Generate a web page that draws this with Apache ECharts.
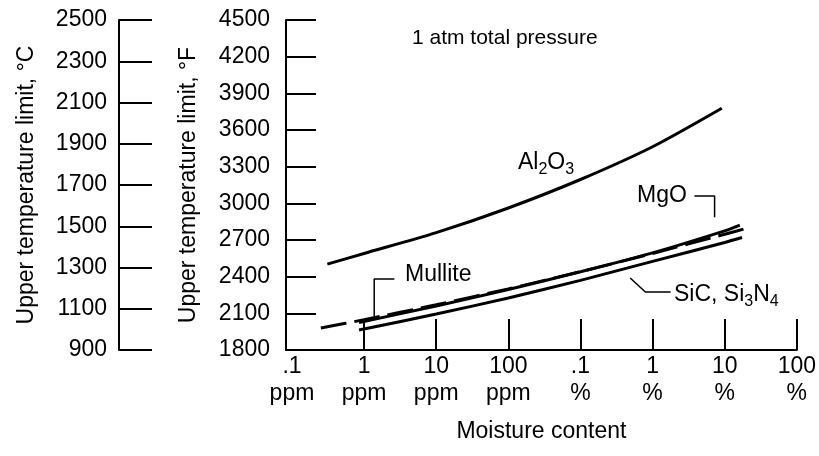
<!DOCTYPE html>
<html>
<head>
<meta charset="utf-8">
<script src="https://cdn.jsdelivr.net/npm/echarts@6/dist/echarts.min.js"></script>
<style>
html, body { margin: 0; padding: 0; background: #fff; }
#chart { width: 819px; height: 456px; }
</style>
</head>
<body>
<div id="chart"></div>
<script>
// moisture content is plotted as log10 of the fraction: -7 = .1 ppm ... 0 = 100 %
const moistureTicks = [-7, -6, -5, -4, -3, -2, -1, 0]
const moistureLabels = ['.1\nppm', '1\nppm', '10\nppm', '100\nppm', '.1\n%', '1\n%', '10\n%', '100\n%']
const celsiusTicks = [900, 1100, 1300, 1500, 1700, 1900, 2100, 2300, 2500]

// [log10 moisture, upper temperature limit °F]
const al2o3 = [[-6.51, 2503], [-6, 2590], [-5, 2760], [-4, 2962], [-3, 3195], [-2, 3463], [-1.04, 3778]]
const mullite = [[-6.6, 1980], [-6, 2048], [-5, 2170], [-4, 2300], [-3, 2441], [-2, 2590], [-1, 2747], [-0.69, 2797]]
const mgo = [[-6.07, 2025], [-5, 2160], [-4, 2295], [-3, 2440], [-2, 2595], [-1, 2775], [-0.79, 2822]]
const sic = [[-6.07, 1963], [-5, 2095], [-4, 2225], [-3, 2370], [-2, 2525], [-1, 2680], [-0.76, 2720]]

// leader lines for the curve labels (same units as the data)
const mulliteLeader = [[-5.58, 2380], [-5.86, 2380], [-5.86, 2068]]
const mgoLeader = [[-1.42, 3059], [-1.14, 3059], [-1.14, 2887]]
const sicLeader = [[-2.31, 2389], [-2.1, 2274], [-1.75, 2274]]

const FONT = '"Liberation Sans", Arial, Helvetica, sans-serif'
const black = '#000'

function curve(name, data, dashed) {
  return {
    name: name,
    type: 'line',
    data: data,
    symbol: 'none',
    smooth: 0.25,
    silent: true,
    lineStyle: { color: black, width: 3, type: dashed ? [26, 8] : 'solid' },
  }
}
function leader(data) {
  return {
    type: 'line',
    data: data,
    symbol: 'none',
    silent: true,
    lineStyle: { color: black, width: 1.5 },
  }
}
function label(text, x, y, size) {
  return {
    type: 'text',
    x: x,
    y: y,
    style: { text: text, fill: black, font: (size || 23) + 'px ' + FONT, verticalAlign: 'middle' },
  }
}
function subLabel(text, x, y) {
  return {
    type: 'text',
    x: x,
    y: y,
    style: {
      text: text,
      verticalAlign: 'middle',
      rich: {
        a: { fontSize: 23, fontFamily: FONT, color: black, lineHeight: 24, verticalAlign: 'top' },
        s: { fontSize: 16, fontFamily: FONT, color: black, lineHeight: 16, verticalAlign: 'top', padding: [11, 0, 0, 0] },
      },
    },
  }
}

const axisText = { fontSize: 23, fontFamily: FONT, color: black }

let myChart = echarts.init(document.getElementById('chart'))
myChart.setOption({
  animation: false,
  backgroundColor: '#fff',
  grid: [
    { left: 286, right: 22, top: 20, bottom: 106 },
    // narrow grid that only carries the °C scale
    { left: 119, width: 10, top: 20, bottom: 106 },
  ],
  xAxis: [
    {
      type: 'value',
      gridIndex: 0,
      min: -7.083,
      max: 0,
      name: 'Moisture content',
      nameLocation: 'middle',
      nameGap: 70,
      nameTextStyle: axisText,
      axisLine: { onZero: false, lineStyle: { color: black, width: 2 } },
      axisTick: { inside: true, length: 31, customValues: moistureTicks.slice(1), lineStyle: { color: black, width: 2 } },
      axisLabel: {
        customValues: moistureTicks,
        formatter: (v) => moistureLabels[moistureTicks.indexOf(Math.round(v))],
        fontSize: 23,
        lineHeight: 27,
        fontFamily: FONT,
        color: black,
        margin: 3,
      },
      splitLine: { show: false },
    },
    { type: 'value', gridIndex: 1, min: 0, max: 1, show: false },
  ],
  yAxis: [
    {
      type: 'value',
      gridIndex: 0,
      min: 1800,
      max: 4500,
      interval: 300,
      name: 'Upper temperature limit, °F',
      nameLocation: 'middle',
      nameRotate: 90,
      nameGap: 86,
      nameTextStyle: axisText,
      axisLine: { show: true, onZero: false, lineStyle: { color: black, width: 2 } },
      axisTick: { show: true, inside: true, length: 30, lineStyle: { color: black, width: 2 } },
      axisLabel: { fontSize: 23, fontFamily: FONT, color: black, margin: 16, formatter: (v) => String(v) },
      splitLine: { show: false },
    },
    {
      type: 'value',
      gridIndex: 1,
      min: 900,
      max: 2500,
      name: 'Upper temperature limit, °C',
      nameLocation: 'middle',
      nameRotate: 90,
      nameGap: 81,
      nameTextStyle: axisText,
      axisLine: { show: true, onZero: false, lineStyle: { color: black, width: 2 } },
      axisTick: { show: true, inside: true, length: 33, customValues: celsiusTicks, lineStyle: { color: black, width: 2 } },
      axisLabel: { customValues: celsiusTicks, fontSize: 23, fontFamily: FONT, color: black, margin: 12, formatter: (v) => String(v) },
      splitLine: { show: false },
    },
  ],
  series: [
    curve('Al2O3', al2o3, false),
    curve('Mullite', mullite, true),
    curve('MgO', mgo, false),
    curve('SiC, Si3N4', sic, false),
    leader(mulliteLeader),
    leader(mgoLeader),
    leader(sicLeader),
  ],
  graphic: [
    label('1 atm total pressure', 412, 38, 21),
    subLabel('{a|Al}{s|2}{a|O}{s|3}', 518, 163),
    label('MgO', 637, 196),
    label('Mullite', 405, 275),
    subLabel('{a|SiC, Si}{s|3}{a|N}{s|4}', 674, 295),
  ],
})
</script>
</body>
</html>
